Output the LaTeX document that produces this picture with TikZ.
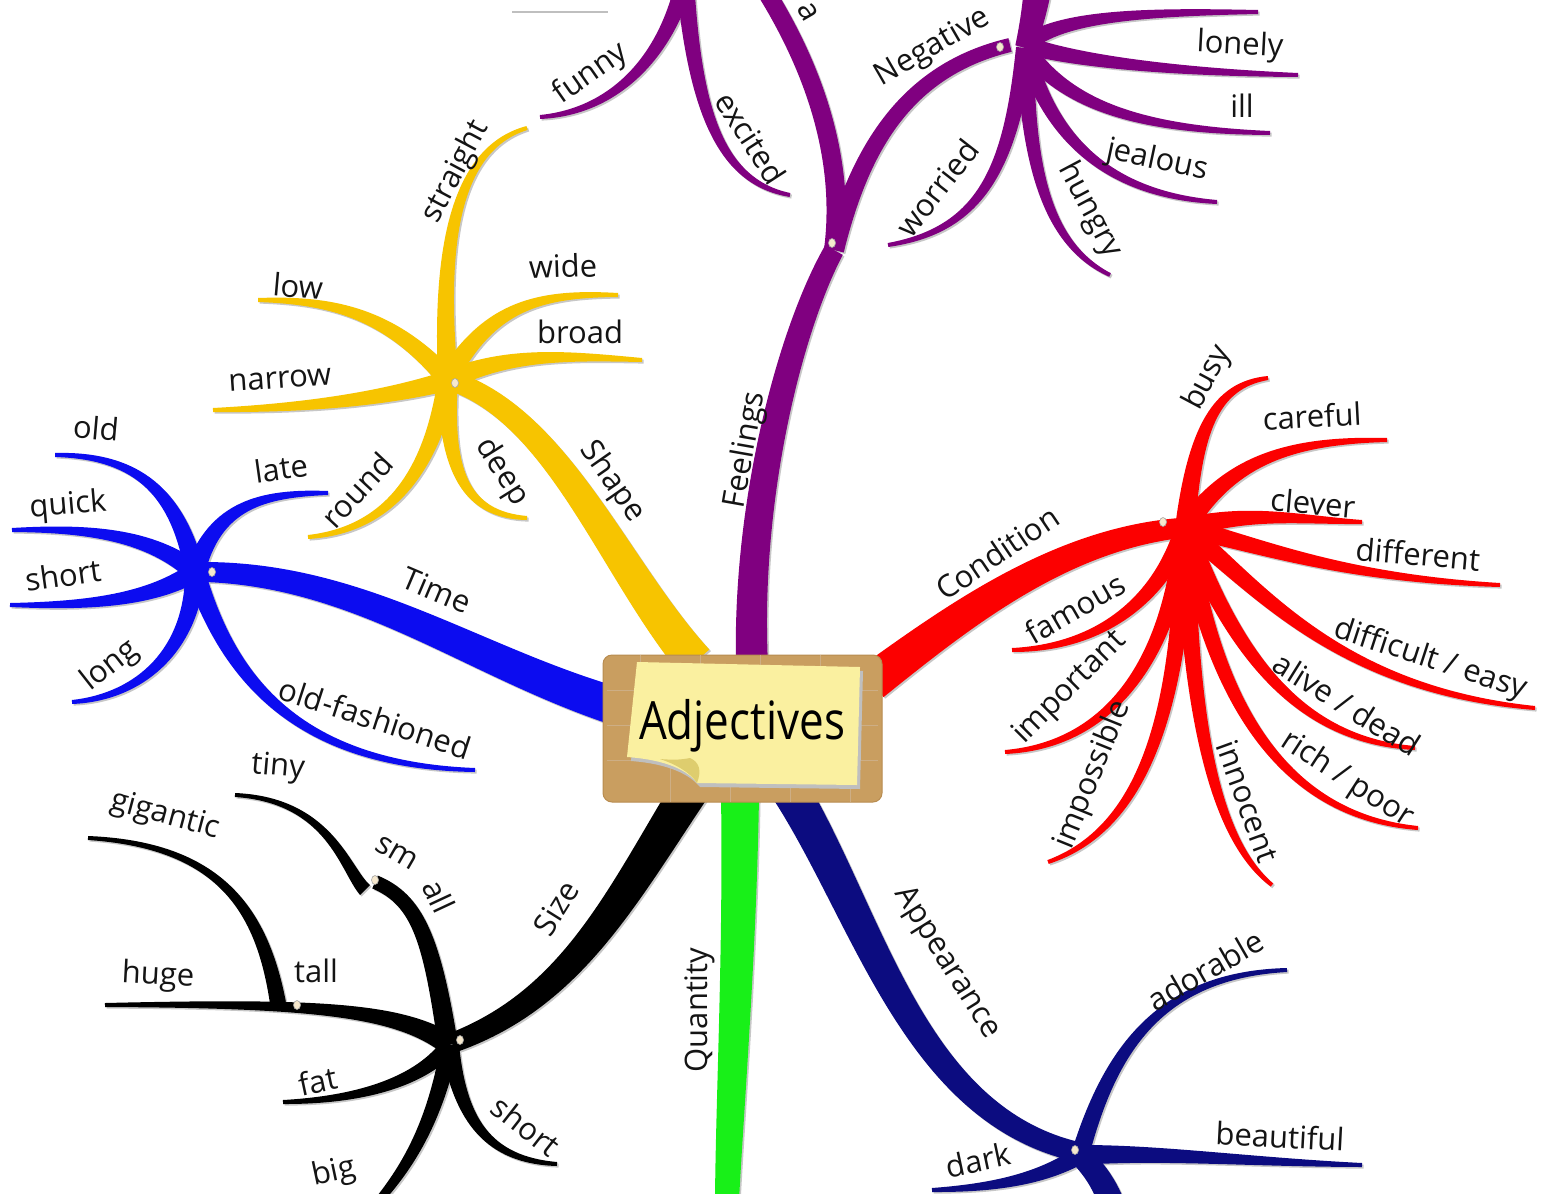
\documentclass[tikz,border=0pt]{standalone}
\usepackage{fontspec}
\setmainfont{Open Sans}
\usetikzlibrary{calc,shapes.geometric}
\definecolor{cyel}{RGB}{247,196,0}
\definecolor{cblue}{RGB}{12,12,240}
\definecolor{cpur}{RGB}{128,0,128}
\definecolor{cred}{RGB}{252,0,0}
\definecolor{cnavy}{RGB}{12,12,128}
\definecolor{cgreen}{RGB}{24,240,24}
\definecolor{ctan}{RGB}{201,158,96}
\definecolor{ctanline}{RGB}{184,140,80}
\definecolor{cnote}{RGB}{250,240,160}
\definecolor{cnotedark}{RGB}{222,205,110}
\definecolor{cdot}{RGB}{246,232,205}
\definecolor{ctext}{RGB}{20,20,20}
\tikzset{
  brpass/.style={},
  lab/.style={font=\fontsize{31}{34}\selectfont, inner sep=0pt, text=ctext},
  hubdot/.style={fill=cdot, draw=black!35, line width=0.6pt}
}
% tapered branch: colour, start, control1, control2, end, start width, end width
\newcommand\br[7]{%
  \coordinate (bS) at (#2);
  \coordinate (bA) at (#3);
  \coordinate (bB) at (#4);
  \coordinate (bE) at (#5);
  \pgfmathsetmacro\brwa{#6/2}%
  \pgfmathsetmacro\brwb{(2*#6+#7)/6}%
  \pgfmathsetmacro\brwc{(#6+2*#7)/6}%
  \pgfmathsetmacro\brwd{#7/2}%
  \coordinate (bS1) at ($(bS)!\brwa pt!90:(bA)$);
  \coordinate (bS2) at ($(bS)!\brwa pt!-90:(bA)$);
  \coordinate (bt1) at ($(bS)!\brwb pt!90:(bB)$);
  \coordinate (bA1) at ($(bA)+(bt1)-(bS)$);
  \coordinate (bA2) at ($(bA)-(bt1)+(bS)$);
  \coordinate (bt2) at ($(bA)!\brwc pt!90:(bE)$);
  \coordinate (bB1) at ($(bB)+(bt2)-(bA)$);
  \coordinate (bB2) at ($(bB)-(bt2)+(bA)$);
  \coordinate (bE1) at ($(bE)!\brwd pt!-90:(bB)$);
  \coordinate (bE2) at ($(bE)!\brwd pt!90:(bB)$);
  \fill[#1, brpass] (bS1) .. controls (bA1) and (bB1) .. (bE1) -- (bE2) .. controls (bB2) and (bA2) .. (bS2) -- cycle;
}
\newcommand\allbranches{%
  % ---- yellow : Shape
  \br{cyel}{695,662}{615,570}{560,420}{455,382}{38}{20}
  \br{cyel}{448,380}{440,260}{450,150}{527,128}{20}{4}
  \br{cyel}{448,378}{490,305}{540,293}{618,295}{20}{4}
  \br{cyel}{448,380}{510,352}{570,356}{642,360}{20}{4}
  \br{cyel}{450,382}{390,312}{330,300}{258,300}{20}{4}
  \br{cyel}{450,380}{380,400}{300,408}{213,410}{20}{4}
  \br{cyel}{448,378}{432,470}{390,530}{308,537}{20}{4}
  \br{cyel}{448,378}{445,470}{465,515}{527,518}{20}{4}
  % ---- blue : Time
  \br{cblue}{612,705}{470,660}{360,575}{205,572}{38}{20}
  \br{cblue}{195,572}{215,505}{262,493}{328,493}{20}{4}
  \br{cblue}{195,572}{178,495}{140,455}{55,455}{20}{4}
  \br{cblue}{195,572}{150,535}{90,528}{12,530}{20}{4}
  \br{cblue}{195,572}{150,600}{90,606}{10,605}{20}{4}
  \br{cblue}{195,572}{192,650}{140,697}{72,702}{20}{4}
  \br{cblue}{195,572}{225,665}{285,765}{475,770}{20}{4}
  % ---- purple : Feelings
  \br{cpur}{752,665}{746,500}{790,330}{834,250}{32}{20}
  \br{cpur}{834,250}{845,160}{815,70}{765,-10}{20}{18}
  \br{cpur}{834,250}{860,150}{905,70}{1010,45}{20}{14}
  \br{cpur}{1025,48}{1030,30}{1035,10}{1038,-15}{20}{28}
  \br{cpur}{1025,45}{1060,15}{1150,12}{1258,12}{18}{4}
  \br{cpur}{1025,45}{1080,62}{1180,72}{1298,75}{18}{4}
  \br{cpur}{1025,48}{1070,110}{1150,130}{1270,133}{18}{4}
  \br{cpur}{1025,48}{1050,140}{1110,195}{1217,202}{18}{4}
  \br{cpur}{1025,48}{1028,170}{1048,245}{1110,275}{18}{4}
  \br{cpur}{1025,48}{1010,170}{980,230}{888,245}{18}{4}
  \br{cpur}{685,-20}{665,60}{612,112}{540,117}{18}{4}
  \br{cpur}{685,-20}{695,110}{720,182}{790,195}{18}{4}
  % ---- red : Condition
  \br{cred}{872,682}{960,615}{1060,540}{1180,528}{38}{20}
  \br{cred}{1185,528}{1195,430}{1215,385}{1268,378}{20}{4}
  \br{cred}{1185,528}{1230,460}{1290,440}{1387,440}{20}{4}
  \br{cred}{1185,528}{1250,510}{1300,520}{1362,522}{20}{4}
  \br{cred}{1185,528}{1260,545}{1340,578}{1500,585}{20}{4}
  \br{cred}{1185,528}{1260,590}{1340,690}{1535,708}{20}{4}
  \br{cred}{1185,528}{1230,640}{1290,740}{1415,748}{20}{4}
  \br{cred}{1185,528}{1210,680}{1270,815}{1418,828}{20}{4}
  \br{cred}{1185,528}{1190,720}{1215,840}{1272,885}{20}{4}
  \br{cred}{1185,528}{1180,720}{1140,830}{1048,862}{20}{4}
  \br{cred}{1185,528}{1170,660}{1110,745}{1005,752}{20}{4}
  \br{cred}{1185,528}{1160,600}{1100,648}{1012,650}{20}{4}
  % ---- navy : Appearance
  \br{cnavy}{790,790}{870,920}{915,1115}{1078,1152}{38}{20}
  \br{cnavy}{1080,1155}{1110,1050}{1160,975}{1287,970}{18}{4}
  \br{cnavy}{1080,1155}{1160,1152}{1250,1162}{1362,1165}{20}{4}
  \br{cnavy}{1080,1155}{1040,1180}{990,1188}{932,1190}{18}{4}
  \br{cnavy}{1080,1155}{1095,1170}{1105,1185}{1112,1205}{22}{26}
  % ---- green : Quantity
  \br{cgreen}{740,795}{740,950}{730,1100}{727,1200}{38}{24}
  % ---- black : Size
  \br{black}{690,790}{620,900}{570,1000}{452,1043}{38}{20}
  \br{black}{450,1045}{460,1120}{488,1160}{557,1164}{18}{4}
  \br{black}{450,1045}{435,1120}{410,1165}{375,1205}{18}{8}
  \br{black}{450,1045}{420,1082}{360,1100}{283,1102}{18}{4}
  \br{black}{450,1045}{400,1010}{320,1003}{105,1005}{22}{4}
  \br{black}{278,1003}{262,910}{220,845}{88,838}{16}{4}
  \br{black}{448,1045}{432,940}{418,900}{375,882}{20}{14}
  \br{black}{365,890}{345,870}{330,800}{235,795}{14}{4}
}
\begin{document}
\begin{tikzpicture}[x=1pt,y=-1pt]
\useasboundingbox (0,0) rectangle (1554,1193);
\fill[white] (0,0) rectangle (1554,1193);
\begin{scope}
\clip (0,0) rectangle (1554,1193);
\draw[black!25, line width=2pt] (512,12) -- (608,12);
% shadow pass
\tikzset{brpass/.style={fill=black!22, transform canvas={shift={(1.6,1.6)}}}}
\allbranches
% colour pass
\tikzset{brpass/.style={}}
\allbranches
% hub dots
\foreach \p/\n in {{455,383}/dy, {212,572}/db, {832,243}/dp, {1000,47}/dn, {1163,522}/dr, {1075,1150}/dv, {460,1040}/dk, {297,1005}/dt, {375,880}/ds}
  \node[hubdot, ellipse, minimum width=7pt, minimum height=9pt, inner sep=0pt] (\n) at (\p) {};
\end{scope}
% ---- centre box
\fill[ctan, draw=ctanline, line width=1pt, rounded corners=9pt] (603,655) rectangle (882,802);
\foreach \yy in {690,725,760}
  \draw[ctanline!70, line width=1pt] (607,\yy) -- (878,\yy);
\foreach \xx in {640,700,760,820}
  \draw[ctanline!70, line width=1pt] (\xx,655) -- (\xx,690) (\xx+30,690) -- (\xx+30,725) (\xx,725) -- (\xx,760) (\xx+30,760) -- (\xx+30,802);
\fill[black!25] (640,666) -- (863,671) -- (860,789) -- (700,787) .. controls (690,775) and (670,764) .. (631,761) -- cycle;
\fill[cnote] (637,662) -- (860,667) -- (857,785) -- (697,783) .. controls (688,771) and (668,760) .. (627,757) -- cycle;
\fill[cnotedark] (697,783) .. controls (702,770) and (699,762) .. (690,758) .. controls (680,760) and (672,760) .. (660,759) .. controls (675,764) and (690,772) .. (697,783) -- cycle;
\node[font=\fontsize{44}{48}\selectfont, yscale=1.2, inner sep=0pt, text=black] (title) at (742,726) {Adjectives};
% ---- labels : yellow
\node[lab, rotate=62] (lstraight) at (456,172) {straight};
\node[lab, rotate=-5] (llow) at (298,286) {low};
\node[lab, rotate=2] (lwide) at (563,266) {wide};
\node[lab] (lbroad) at (580,332) {broad};
\node[lab, rotate=4] (lnarrow) at (280,380) {narrow};
\node[lab, rotate=47] (lround) at (357,490) {round};
\node[lab, rotate=-58] (ldeep) at (502,472) {deep};
\node[lab, rotate=-55] (lshape) at (612,482) {Shape};
% ---- labels : blue
\node[lab, rotate=-23] (ltime) at (437,590) {Time};
\node[lab, rotate=8] (llate) at (281,468) {late};
\node[lab, rotate=-5] (lold) at (96,428) {old};
\node[lab, rotate=5] (lquick) at (68,506) {quick};
\node[lab, rotate=8] (lshort) at (63,575) {short};
\node[lab, rotate=38] (llong) at (110,666) {long};
\node[lab, rotate=-18] (loldf) at (375,718) {old-fashioned};
% ---- labels : purple
\node[lab, rotate=80] (lfeel) at (746,450) {Feelings};
\node[lab, rotate=-60] (la) at (808,12) {a};
\node[lab, rotate=30] (lneg) at (933,48) {Negative};
\node[lab, rotate=35] (lfunny) at (591,74) {funny};
\node[lab, rotate=-57] (lexcited) at (751,138) {excited};
\node[lab, rotate=-3] (llonely) at (1240,46) {lonely};
\node[lab] (lill) at (1242,106) {ill};
\node[lab, rotate=-12] (ljealous) at (1157,161) {jealous};
\node[lab, rotate=-62] (lhungry) at (1090,210) {hungry};
\node[lab, rotate=52] (lworried) at (937,188) {worried};
% ---- labels : red
\node[lab, rotate=34] (lcond) at (997,553) {Condition};
\node[lab, rotate=62] (lbusy) at (1208,378) {busy};
\node[lab, rotate=3] (lcareful) at (1312,416) {careful};
\node[lab, rotate=-5] (lclever) at (1313,503) {clever};
\node[lab, rotate=-5] (ldiff) at (1418,554) {different};
\node[lab, rotate=-18] (ldiffic) at (1430,660) {difficult / easy};
\node[lab, rotate=-32] (lalive) at (1347,704) {alive / dead};
\node[lab, rotate=-33] (lrich) at (1347,780) {rich / poor};
\node[lab, rotate=-70] (linno) at (1248,801) {innocent};
\node[lab, rotate=68] (limposs) at (1093,775) {impossible};
\node[lab, rotate=45] (limport) at (1070,688) {important};
\node[lab, rotate=30] (lfamous) at (1075,608) {famous};
% ---- labels : navy
\node[lab, rotate=-58] (lapp) at (947,963) {Appearance};
\node[lab, rotate=30] (ladorable) at (1205,970) {adorable};
\node[lab, rotate=-3] (lbeaut) at (1280,1136) {beautiful};
\node[lab, rotate=12] (ldark) at (978,1160) {dark};
% ---- labels : green
\node[lab, rotate=90] (lquant) at (700,1010) {Quantity};
% ---- labels : black
\node[lab, rotate=58] (lsize) at (556,908) {Size};
\node[lab, rotate=-5] (ltiny) at (278,768) {tiny};
\node[lab, rotate=-15] (lgig) at (165,816) {gigantic};
\node[lab, rotate=-30] (lsm) at (397,853) {sm};
\node[lab, rotate=-65] (lall) at (439,896) {all};
\node[lab, rotate=-3] (lhuge) at (158,976) {huge};
\node[lab] (ltall) at (316,971) {tall};
\node[lab, rotate=12] (lfat) at (318,1081) {fat};
\node[lab, rotate=12] (lbig) at (334,1173) {big};
\node[lab, rotate=-38] (lshort2) at (526,1126) {short};
\end{tikzpicture}
\end{document}
